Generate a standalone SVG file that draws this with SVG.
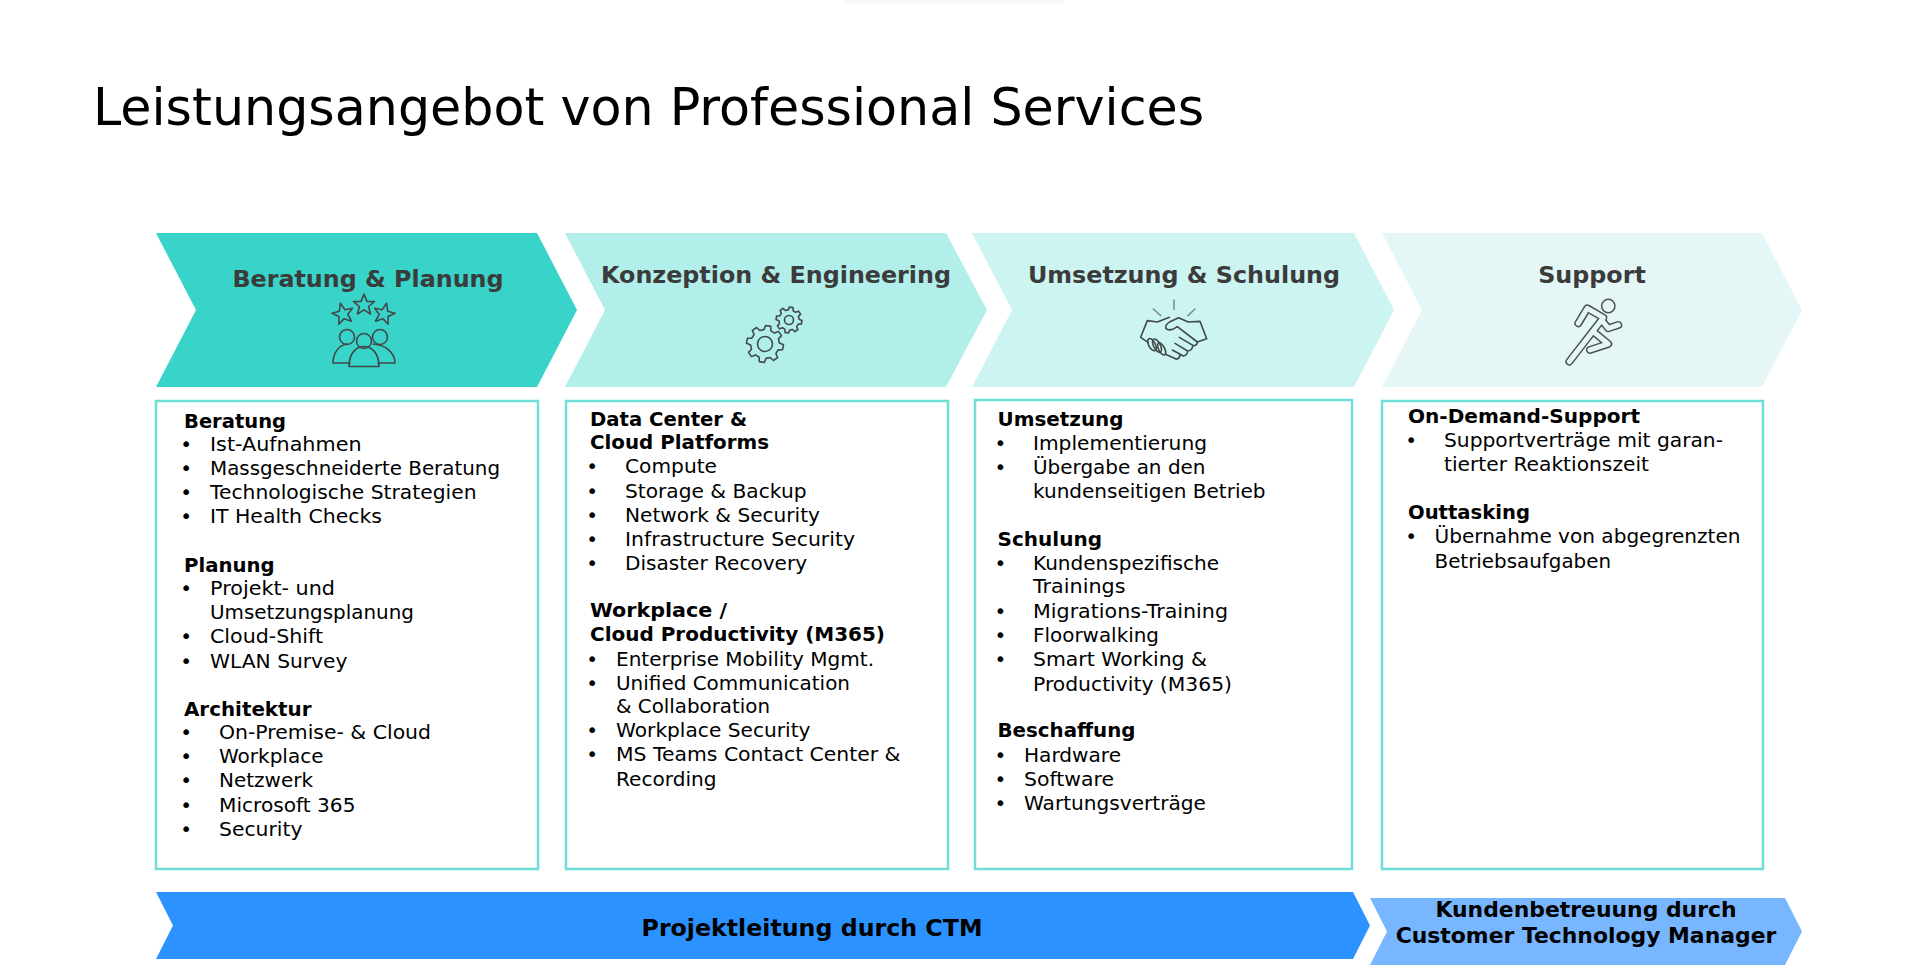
<svg xmlns="http://www.w3.org/2000/svg" width="1908" height="966" viewBox="0 0 1908 966">
<style>
text{font-family:"DejaVu Sans",Verdana,sans-serif;fill:#000}
.t{font-size:20px}
.h{font-size:20px;font-weight:700}
.c{font-size:23.8px;font-weight:700;fill:#3b3b3b;text-anchor:middle}
.b{font-size:21.9px;font-weight:700;text-anchor:middle}
.box{fill:#fff;stroke:#6fdedb;stroke-width:2.5}
.ic{fill:none;stroke:#414a4a;stroke-width:1.6;stroke-linejoin:round;stroke-linecap:round}
.ns{vector-effect:non-scaling-stroke}
</style>
<defs>
<linearGradient id="fade" x1="0" y1="0" x2="0" y2="1"><stop offset="0" stop-color="#f6f6f6"/><stop offset="1" stop-color="#fff"/></linearGradient>
<polygon id="gear" class="ns" points=".757,-.189 .990,-.139 .990,.139 .757,.189 .669,.402 .799,.602 .602,.799 .402,.669 .189,.757 .139,.990 -.139,.990 -.189,.757 -.402,.669 -.602,.799 -.799,.602 -.669,.402 -.757,.189 -.990,.139 -.990,-.139 -.757,-.189 -.669,-.402 -.799,-.602 -.602,-.799 -.402,-.669 -.189,-.757 -.139,-.990 .139,-.990 .189,-.757 .402,-.669 .602,-.799 .799,-.602 .669,-.402"/>
<polygon id="star" points="0,-11 2.9,-3.6 10.5,-3.4 4.6,1.5 6.5,9 0,4.8 -6.5,9 -4.6,1.5 -10.5,-3.4 -2.9,-3.6"/>
</defs>
<rect width="1908" height="966" fill="#fff"/>
<rect x="843" y="0" width="221" height="6" fill="url(#fade)"/>
<text id="title" x="93" y="125" style="font-size:50.7px">Leistungsangebot von Professional Services</text>

<g id="phase-beratung">
<polygon points="156,233 537,233 577,310 537,387 156,387 196,310" fill="#38d3c9"/>
<text class="c" x="368" y="287">Beratung &amp; Planung</text>
<g class="ic">
<use href="#star" transform="translate(364,305)"/>
<use href="#star" transform="translate(343,314) rotate(-14)"/>
<use href="#star" transform="translate(384,314) rotate(14)"/>
<path d="M333 363c0-10 6-18 14-19M373 344c13 1 22 9 22 19H378M333 363H350"/>
<circle cx="347" cy="337" r="7.500"/><circle cx="380" cy="337" r="7.500"/><circle cx="364" cy="341" r="7.500"/>
<path d="M349 366.500c0-13 7-20 15-20s15 7 15 20z"/>
</g>
</g>
<g id="phase-konzeption">
<polygon points="565,233 946,233 987,310 946,387 565,387 605,310" fill="#b2eeea"/>
<text class="c" x="776" y="283">Konzeption &amp; Engineering</text>
<g class="ic">
<use href="#gear" transform="translate(765,344) scale(18.500) rotate(10)"/><circle cx="765" cy="344" r="7.500"/>
<use href="#gear" transform="translate(789,320) scale(13) rotate(10)"/><circle cx="789" cy="320" r="4.500"/>
</g>
</g>
<g id="phase-umsetzung">
<polygon points="972,233 1354,233 1394,310 1354,387 972,387 1012,310" fill="#ccf4f1"/>
<text class="c" x="1184" y="283">Umsetzung &amp; Schulung</text>
<g class="ic" transform="translate(1120,280) scale(.3333)">
<path class="ns" d="M162 60V88M100 87L122 107M225 87L204 107" stroke="#7f8f8f"/>
<path class="ns" d="M148 112L112 126L82 122L62 172L85 188M135 222L170 238Q180 235 180 225"/>
<path class="ns" d="M232 186L260 176L240 124L205 126L176 113L150 125Q134 135 138 146Q145 152 158 148L172 140L232 186"/>
<path class="ns" d="M178 172L220 197Q232 197 232 186M165 190L203 213Q215 212 218 200M157 210L190 228Q202 226 203 213"/>
<ellipse class="ns" cx="96" cy="194" rx="10" ry="20" transform="rotate(-28 96 194)"/>
<ellipse class="ns" cx="111" cy="197" rx="10" ry="22" transform="rotate(-28 111 197)"/>
<ellipse class="ns" cx="125" cy="207" rx="9" ry="20" transform="rotate(-28 125 207)"/>
</g>
</g>
<g id="phase-support">
<polygon points="1382,233 1762,233 1802,310 1762,387 1382,387 1422,310" fill="#e4f7f6"/>
<text class="c" x="1592" y="283">Support</text>
<g fill="none" stroke-linecap="round" stroke-linejoin="round" transform="translate(1360,220) scale(.3333)">
<path d="M655 310L682 265L730 293L628 425M725 300L745 325L775 315M700 335L745 372L690 390" stroke="#4a5252" stroke-width="24"/>
<path d="M655 310L682 265L730 293L628 425M725 300L745 325L775 315M700 335L745 372L690 390" stroke="#e4f7f6" stroke-width="15"/>
<circle cx="745" cy="258" r="20" stroke="#4a5252" stroke-width="4.500"/>
</g>
</g>

<g id="box-beratung">
<rect class="box" x="156" y="401" width="382" height="468"/>
<text class="h" x="184" y="428" textLength="102" lengthAdjust="spacingAndGlyphs">Beratung</text>
<text class="t" x="180.300" y="451">•</text><text class="t" x="210" y="451" textLength="151.500" lengthAdjust="spacingAndGlyphs">Ist-Aufnahmen</text>
<text class="t" x="180.300" y="475">•</text><text class="t" x="210" y="475" textLength="290" lengthAdjust="spacingAndGlyphs">Massgeschneiderte Beratung</text>
<text class="t" x="180.300" y="499">•</text><text class="t" x="210" y="499" textLength="266.500" lengthAdjust="spacingAndGlyphs">Technologische Strategien</text>
<text class="t" x="180.300" y="523">•</text><text class="t" x="210" y="523" textLength="172" lengthAdjust="spacingAndGlyphs">IT Health Checks</text>
<text class="h" x="184" y="572" textLength="90.500" lengthAdjust="spacingAndGlyphs">Planung</text>
<text class="t" x="180.300" y="595">•</text><text class="t" x="210" y="595" textLength="125" lengthAdjust="spacingAndGlyphs">Projekt- und</text>
<text class="t" x="210" y="619" textLength="204" lengthAdjust="spacingAndGlyphs">Umsetzungsplanung</text>
<text class="t" x="180.300" y="643">•</text><text class="t" x="210" y="643" textLength="113" lengthAdjust="spacingAndGlyphs">Cloud-Shift</text>
<text class="t" x="180.300" y="668">•</text><text class="t" x="210" y="668" textLength="137.500" lengthAdjust="spacingAndGlyphs">WLAN Survey</text>
<text class="h" x="184" y="716" textLength="127.500" lengthAdjust="spacingAndGlyphs">Architektur</text>
<text class="t" x="180.300" y="739">•</text><text class="t" x="219" y="739" textLength="212" lengthAdjust="spacingAndGlyphs">On-Premise- &amp; Cloud</text>
<text class="t" x="180.300" y="763">•</text><text class="t" x="219" y="763" textLength="104.500" lengthAdjust="spacingAndGlyphs">Workplace</text>
<text class="t" x="180.300" y="787">•</text><text class="t" x="219" y="787" textLength="94" lengthAdjust="spacingAndGlyphs">Netzwerk</text>
<text class="t" x="180.300" y="812">•</text><text class="t" x="219" y="812" textLength="136.500" lengthAdjust="spacingAndGlyphs">Microsoft 365</text>
<text class="t" x="180.300" y="836">•</text><text class="t" x="219" y="836" textLength="83.500" lengthAdjust="spacingAndGlyphs">Security</text>
</g>

<g id="box-konzeption">
<rect class="box" x="566" y="401" width="382" height="468"/>
<text class="h" x="590" y="426" textLength="157" lengthAdjust="spacingAndGlyphs">Data Center &amp;</text>
<text class="h" x="590" y="449" textLength="179" lengthAdjust="spacingAndGlyphs">Cloud Platforms</text>
<text class="t" x="586.300" y="473">•</text><text class="t" x="625" y="473" textLength="92" lengthAdjust="spacingAndGlyphs">Compute</text>
<text class="t" x="586.300" y="498">•</text><text class="t" x="625" y="498" textLength="181.500" lengthAdjust="spacingAndGlyphs">Storage &amp; Backup</text>
<text class="t" x="586.300" y="522">•</text><text class="t" x="625" y="522" textLength="195" lengthAdjust="spacingAndGlyphs">Network &amp; Security</text>
<text class="t" x="586.300" y="546">•</text><text class="t" x="625" y="546" textLength="230" lengthAdjust="spacingAndGlyphs">Infrastructure Security</text>
<text class="t" x="586.300" y="570">•</text><text class="t" x="625" y="570" textLength="182" lengthAdjust="spacingAndGlyphs">Disaster Recovery</text>
<text class="h" x="590" y="617" textLength="137" lengthAdjust="spacingAndGlyphs">Workplace /</text>
<text class="h" x="590" y="641" textLength="295" lengthAdjust="spacingAndGlyphs">Cloud Productivity (M365)</text>
<text class="t" x="586.300" y="666">•</text><text class="t" x="616" y="666" textLength="258" lengthAdjust="spacingAndGlyphs">Enterprise Mobility Mgmt.</text>
<text class="t" x="586.300" y="690">•</text><text class="t" x="616" y="690" textLength="234" lengthAdjust="spacingAndGlyphs">Unified Communication</text>
<text class="t" x="616" y="713" textLength="154" lengthAdjust="spacingAndGlyphs">&amp; Collaboration</text>
<text class="t" x="586.300" y="737">•</text><text class="t" x="616" y="737" textLength="194.500" lengthAdjust="spacingAndGlyphs">Workplace Security</text>
<text class="t" x="586.300" y="761">•</text><text class="t" x="616" y="761" textLength="284.500" lengthAdjust="spacingAndGlyphs">MS Teams Contact Center &amp;</text>
<text class="t" x="616" y="786" textLength="100.500" lengthAdjust="spacingAndGlyphs">Recording</text>
</g>

<g id="box-umsetzung">
<rect class="box" x="975" y="400" width="377" height="469"/>
<text class="h" x="997.500" y="426" textLength="126" lengthAdjust="spacingAndGlyphs">Umsetzung</text>
<text class="t" x="994.600" y="450">•</text><text class="t" x="1033" y="450" textLength="174" lengthAdjust="spacingAndGlyphs">Implementierung</text>
<text class="t" x="994.600" y="474">•</text><text class="t" x="1033" y="474" textLength="172.500" lengthAdjust="spacingAndGlyphs">Übergabe an den</text>
<text class="t" x="1033" y="498" textLength="232.500" lengthAdjust="spacingAndGlyphs">kundenseitigen Betrieb</text>
<text class="h" x="997.500" y="546" textLength="104.500" lengthAdjust="spacingAndGlyphs">Schulung</text>
<text class="t" x="994.600" y="570">•</text><text class="t" x="1033" y="570" textLength="186" lengthAdjust="spacingAndGlyphs">Kundenspezifische</text>
<text class="t" x="1033" y="593" textLength="92.500" lengthAdjust="spacingAndGlyphs">Trainings</text>
<text class="t" x="994.600" y="618">•</text><text class="t" x="1033" y="618" textLength="195" lengthAdjust="spacingAndGlyphs">Migrations-Training</text>
<text class="t" x="994.600" y="642">•</text><text class="t" x="1033" y="642" textLength="126" lengthAdjust="spacingAndGlyphs">Floorwalking</text>
<text class="t" x="994.600" y="666">•</text><text class="t" x="1033" y="666" textLength="174" lengthAdjust="spacingAndGlyphs">Smart Working &amp;</text>
<text class="t" x="1033" y="691" textLength="199" lengthAdjust="spacingAndGlyphs">Productivity (M365)</text>
<text class="h" x="997.500" y="737" textLength="138" lengthAdjust="spacingAndGlyphs">Beschaffung</text>
<text class="t" x="994.600" y="762">•</text><text class="t" x="1024" y="762" textLength="97" lengthAdjust="spacingAndGlyphs">Hardware</text>
<text class="t" x="994.600" y="786">•</text><text class="t" x="1024" y="786" textLength="90" lengthAdjust="spacingAndGlyphs">Software</text>
<text class="t" x="994.600" y="810">•</text><text class="t" x="1024" y="810" textLength="182" lengthAdjust="spacingAndGlyphs">Wartungsverträge</text>
</g>

<g id="box-support">
<rect class="box" x="1382" y="401" width="381" height="468"/>
<text class="h" x="1408" y="423" textLength="232" lengthAdjust="spacingAndGlyphs">On-Demand-Support</text>
<text class="t" x="1405.300" y="447">•</text><text class="t" x="1444" y="447" textLength="279" lengthAdjust="spacingAndGlyphs">Supportverträge mit garan-</text>
<text class="t" x="1444" y="471" textLength="205" lengthAdjust="spacingAndGlyphs">tierter Reaktionszeit</text>
<text class="h" x="1408" y="519" textLength="122" lengthAdjust="spacingAndGlyphs">Outtasking</text>
<text class="t" x="1405.300" y="543">•</text><text class="t" x="1434.500" y="543" textLength="306" lengthAdjust="spacingAndGlyphs">Übernahme von abgegrenzten</text>
<text class="t" x="1434.500" y="568" textLength="176.500" lengthAdjust="spacingAndGlyphs">Betriebsaufgaben</text>
</g>

<g id="bar-projektleitung">
<polygon points="156,892 1353,892 1370,925.500 1353,959 156,959 173,925.500" fill="#2b92ff"/>
<text class="b" x="812" y="936" style="font-size:23.700px">Projektleitung durch CTM</text>
</g>
<g id="bar-kundenbetreuung">
<polygon points="1370,898 1785,898 1802,931.500 1785,965 1370,965 1387,931.500" fill="#78b6ff"/>
<text class="b" x="1586" y="917">Kundenbetreuung durch</text>
<text class="b" x="1586" y="943">Customer Technology Manager</text>
</g>
<g id="connectors"/>
</svg>
